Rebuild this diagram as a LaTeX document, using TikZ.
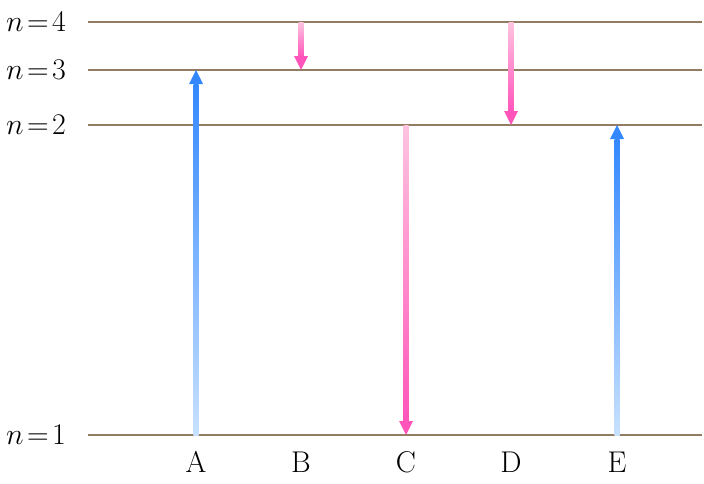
\RequirePackage{fix-cm}
\documentclass[tikz,border=0pt]{standalone}
\usepackage{tikz}
\usetikzlibrary{calc}
\definecolor{levelbrown}{RGB}{148,124,98}
\definecolor{upblue}{HTML}{3388FF}
\definecolor{upbluelight}{HTML}{C8E1FF}
\definecolor{downpink}{HTML}{FF55BB}
\definecolor{downpinklight}{HTML}{FFC4E0}

\begin{document}
\begin{tikzpicture}[
  x=1pt,y=-1pt,
  level/.style={draw=levelbrown,line width=2.2pt},
  lvllabel/.style={anchor=east,inner sep=0pt,font=\fontsize{30}{32}\selectfont},
  letter/.style={anchor=base,inner sep=0pt,font=\fontsize{30}{32}\selectfont}
]
\useasboundingbox (0,0) rectangle (704,483);
% energy levels
\foreach \n/\y in {4/22,3/70,2/125,1/435}{
  \coordinate (w\n) at (88,\y);
  \coordinate (e\n) at (702,\y);
  \draw[level] (w\n) -- (e\n);
  \node[lvllabel] (lab\n) at (66,\y) {$n\mkern2mu{=}\mkern2mu\n$};
}
% transitions
\foreach \nm/\x/\ys/\yt/\hd/\tc/\bc/\hc in {
    A/196/435/70/14/upblue/upbluelight/upblue,
    B/301/22/70/-14/downpinklight/downpink/downpink,
    C/406/125/435/-14/downpinklight/downpink/downpink,
    D/511/22/125/-14/downpinklight/downpink/downpink,
    E/617/435/125/14/upblue/upbluelight/upblue}{
  \coordinate (\nm s) at (\x,\ys);
  \coordinate (\nm t) at (\x,\yt);
  \coordinate (\nm h) at (\x,\yt+\hd);
  \shade[top color=\tc,bottom color=\bc] ($(\nm s)+(-2.5,0)$) rectangle ($(\nm h)+(2.5,0)$);
  \fill[\hc] ($(\nm h)+(-7,0)$) -- ($(\nm h)+(7,0)$) -- (\nm t) -- cycle;
  \node[letter] (lab\nm) at (\x,472) {\nm};
}
\end{tikzpicture}
\end{document}
